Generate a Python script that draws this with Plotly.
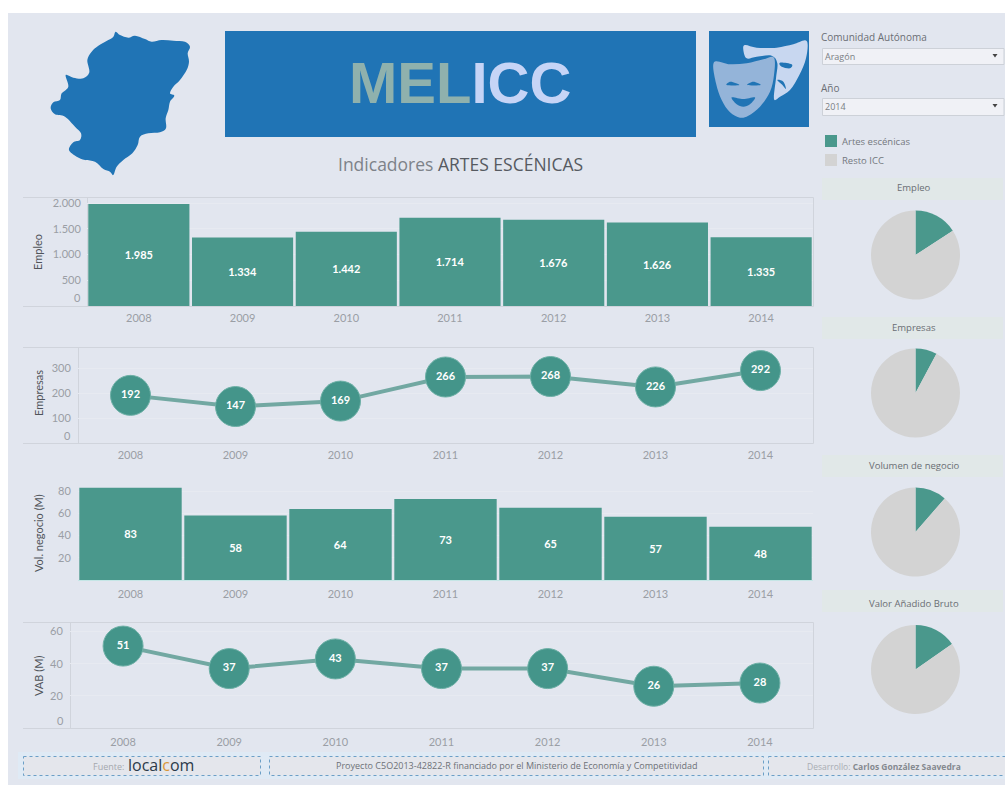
import plotly.graph_objects as go

W, H = 1005, 785

# ---- data ----
years = ["2008", "2009", "2010", "2011", "2012", "2013", "2014"]
empleo = [1985, 1334, 1442, 1714, 1676, 1626, 1335]
empresas = [192, 147, 169, 266, 268, 226, 292]
vol_negocio = [83, 58, 64, 73, 65, 57, 48]
vab = [51, 37, 43, 37, 37, 26, 28]

pie_titles = ["Empleo", "Empresas", "Volumen de negocio", "Valor Añadido Bruto"]
pie_labels = ["Artes escénicas", "Resto ICC"]
pie_artes = [15.8, 7.8, 11.4, 15.3]
pie_resto = [84.2, 92.2, 88.6, 84.7]

empleo_ticks = [500, 1000, 1500, 2000]
empleo_ticktext = ["500", "1.000", "1.500", "2.000"]
empresas_ticks = [100, 200, 300]
vol_ticks = [20, 40, 60, 80]
vab_ticks = [20, 40, 60]

# ---- colours ----
BG = "#e2e6ef"
TEAL = "#4a988c"
TEAL_DOT = "#44958a"
TEAL_LINE = "#72a8a2"
GREY = "#d3d3d3"
BLUE = "#2074b5"
FRAME = "#d0d4dc"
TICK = "#9a9ea5"
AXT = "#50545a"
FONT = "Lato"
SIDE = "Open Sans"


def px(x):
    return x / W


def py(y):
    return 1 - y / H


def path(points):
    return "M " + " L ".join(f"{px(x):.5f} {py(y):.5f}" for x, y in points) + " Z"


def smooth_path(points):
    # closed Catmull-Rom outline written as cubic segments
    n = len(points)
    s = f"M {px(points[0][0]):.5f} {py(points[0][1]):.5f}"
    for i in range(n):
        p0, p1, p2, p3 = points[i - 1], points[i], points[(i + 1) % n], points[(i + 2) % n]
        c1 = (p1[0] + (p2[0] - p0[0]) / 6, p1[1] + (p2[1] - p0[1]) / 6)
        c2 = (p2[0] - (p3[0] - p1[0]) / 6, p2[1] - (p3[1] - p1[1]) / 6)
        s += (f" C {px(c1[0]):.5f} {py(c1[1]):.5f} {px(c2[0]):.5f} {py(c2[1]):.5f}"
              f" {px(p2[0]):.5f} {py(p2[1]):.5f}")
    return s + " Z"


def zoomed(points, ox, oy, k=3.0):
    return [(ox + a / k, oy + b / k) for a, b in points]


shapes = []


def rect(x0, y0, x1, y1, fill=None, line=None, lw=1, dash=None, layer="below"):
    shapes.append(dict(type="rect", xref="paper", yref="paper", x0=px(x0), x1=px(x1),
                       y0=py(y0), y1=py(y1), fillcolor=fill or "rgba(0,0,0,0)",
                       line=dict(color=line or "rgba(0,0,0,0)", width=lw if line else 0, dash=dash),
                       layer=layer))


def poly(points, fill, smooth=False):
    shapes.append(dict(type="path", xref="paper", yref="paper",
                       path=smooth_path(points) if smooth else path(points),
                       fillcolor=fill, line=dict(color="rgba(0,0,0,0)", width=0), layer="below"))


def seg(x0, y0, x1, y1, color=FRAME, layer="below"):
    shapes.append(dict(type="line", xref="paper", yref="paper", x0=px(x0), x1=px(x1), y0=py(y0), y1=py(y1),
                       line=dict(color=color, width=1), layer=layer))


annotations = []


def label(x, y, text, size=11, color=AXT, font=FONT, xanchor="center", angle=0):
    annotations.append(dict(xref="paper", yref="paper", x=px(x), y=py(y), text=text,
                            showarrow=False, xanchor=xanchor, yanchor="middle", textangle=angle,
                            font=dict(size=size, color=color, family=font), borderpad=0, borderwidth=0))


# panel
rect(8, 13, 1005, 785, fill=BG)

# map of the region
map_pts = [(212, 20), (225, 30), (250, 38), (270, 32), (300, 42), (320, 50), (350, 45), (385, 47), (420, 50),
           (435, 65), (428, 85), (432, 110), (425, 135), (405, 165), (385, 185), (375, 205), (388, 212),
           (375, 230), (370, 255), (362, 280), (363, 310), (345, 322), (310, 325), (285, 335), (278, 360),
           (262, 385), (235, 405), (215, 425), (205, 450), (195, 440), (175, 432), (150, 410), (120, 405),
           (95, 395), (72, 375), (85, 352), (105, 345), (108, 325), (90, 305), (60, 275), (30, 268),
           (17, 250), (25, 232), (45, 225), (50, 205), (70, 185), (62, 150), (85, 158), (115, 160),
           (133, 142), (127, 105), (140, 80), (160, 62), (190, 45), (205, 35)]
poly(zoomed(map_pts, 45, 25), BLUE, smooth=True)

# banner and title
rect(225, 31, 696, 137, fill=BLUE)
label(460, 83, "<b><span style='color:#8fb1ad'>MEL</span><span style='color:#c6d4f6'>ICC</span></b>",
      size=58, font="Liberation Sans")
label(460, 164, "<span style='color:#7d8289'>Indicadores </span><span style='color:#565a61'>ARTES ESCÉNICAS</span>",
      size=17.5, font="Open Sans")

# icon
rect(709, 31, 809, 127, fill=BLUE)
back = [(135, 60), (170, 68), (230, 68), (280, 58), (320, 48), (318, 100), (298, 150), (270, 195), (240, 215),
        (222, 222), (228, 160), (232, 115), (215, 92), (170, 95), (140, 100), (130, 75)]
poly(zoomed(back, 700, 25), "#c8d7f0", smooth=True)
front = [(42, 112), (90, 118), (140, 115), (190, 103), (222, 98), (222, 150), (210, 200), (180, 245), (145, 272),
         (120, 278), (90, 262), (65, 225), (48, 175)]
poly(zoomed(front, 700, 25), "#94b4d9", smooth=True)
for shape_pts in ([(95, 217), (130, 222), (165, 217), (150, 238), (130, 245), (110, 238)],
                  [(80, 180), (92, 170), (118, 180)],
                  [(142, 180), (160, 170), (182, 180)],
                  [(240, 113), (275, 118), (270, 130), (245, 125)],
                  [(232, 165), (250, 170), (258, 192), (245, 178)]):
    poly(zoomed(shape_pts, 700, 25), BLUE, smooth=True)

# filters
label(821, 37, "Comunidad Autónoma", size=10, color="#6b6f75", font=SIDE, xanchor="left")
rect(822.5, 48.5, 1004, 64.5, fill="#f0f1f6", line="#cdd1d8")
label(825, 56.5, "Aragón", size=9, color="#7a7e84", font=SIDE, xanchor="left")
poly([(992.5, 54), (997.5, 54), (995, 57.5)], "#444")
label(821, 88, "Año", size=10, color="#6b6f75", font=SIDE, xanchor="left")
rect(822.5, 98.5, 1004, 115.5, fill="#f0f1f6", line="#cdd1d8")
label(825, 107, "2014", size=9, color="#7a7e84", font=SIDE, xanchor="left")
poly([(992.5, 104), (997.5, 104), (995, 107.5)], "#444")

# legend
rect(825, 135, 837, 147, fill=TEAL)
rect(825, 154, 837, 166, fill=GREY)
label(842, 142, pie_labels[0], size=9.5, color="#74787e", font=SIDE, xanchor="left")
label(842, 161, pie_labels[1], size=9.5, color="#74787e", font=SIDE, xanchor="left")

# pie headers
header_boxes = [(178, 200), (317, 339), (455, 477), (590, 612)]
header_text_y = [188, 327, 465, 603]
for (y0, y1), ty, t in zip(header_boxes, header_text_y, pie_titles):
    rect(822, y0, 1003, y1, fill="#e1e8e8")
    label(914, ty, t, size=9.5, color="#6a6e74", font=SIDE)

# chart frames: top, bottom and right rules plus the header divider
for x_div, y0, y1 in [(87.5, 197.5, 306.5), (78.5, 347.5, 443.5), (70.5, 622.5, 728.5)]:
    seg(23, y0, 813.5, y0)
    seg(23, y1, 813.5, y1)
    seg(813.5, y0, 813.5, y1)
    seg(x_div, y0, x_div, y1)
seg(78, 580.5, 813, 580.5, color="#c5e6e6", layer="above")

# axis titles and the inward-shifted zero labels
label(38, 252, "Empleo", angle=-90)
label(38, 393, "Empresas", angle=-90)
label(38, 533, "Vol. negocio (M)", angle=-90)
label(38, 676, "VAB (M)", angle=-90)
label(81, 297, "0", color=TICK, xanchor="right")
label(71, 435, "0", color=TICK, xanchor="right")
label(64, 720, "0", color=TICK, xanchor="right")

# footer
rect(18, 752, 1005, 779, fill="#dfeaf5")
for x0, x1 in [(23.5, 260.5), (269.5, 763.5), (768.5, 1008)]:
    rect(x0, 756.5, x1, 775.5, fill="#e4e6ec", line="#6b9fc7", dash="dot")
label(108, 766, "Fuente:", size=9, color="#a4a8ae", font=SIDE)
label(161, 765, "local<span style='color:#d9973a'>c</span>om", size=16, color="#2b3a4a", font=SIDE)
label(516, 765.5, "Proyecto C5O2013-42822-R financiado por el Ministerio de Economía y Competitividad",
      size=9, color="#6d7177", font=SIDE)
label(884, 766, "<span style='color:#a9adb3'>Desarrollo: </span><b>Carlos González Saavedra</b>",
      size=8.5, color="#85898f", font=SIDE)

fig = go.Figure()


def dots(v):
    return f"{v:,}".replace(",", ".")


def bar(values, idx):
    fig.add_trace(go.Bar(x=years, y=values, xaxis=f"x{idx}", yaxis=f"y{idx}", width=0.975,
                         marker=dict(color=TEAL, line=dict(width=0)),
                         text=[dots(v) for v in values], textposition="inside", insidetextanchor="middle",
                         textangle=0, constraintext="none",
                         textfont=dict(color="white", size=11, family=FONT, weight="bold"),
                         showlegend=False, hoverinfo="x+y"))


def line(values, idx):
    fig.add_trace(go.Scatter(x=years, y=values, xaxis=f"x{idx}", yaxis=f"y{idx}", mode="lines+markers+text",
                             line=dict(color=TEAL_LINE, width=4),
                             marker=dict(color=TEAL_DOT, size=40, line=dict(color="#6db0a6", width=1)),
                             text=[str(v) for v in values], textposition="middle center",
                             textfont=dict(color="white", size=11, family=FONT, weight="bold"),
                             cliponaxis=False, showlegend=False, hoverinfo="x+y"))


bar(empleo, 1)
line(empresas, 2)
bar(vol_negocio, 3)
line(vab, 4)

pie_boxes = [(871, 960, 210, 300), (871, 960, 348, 438), (871, 960, 487, 577), (871, 960, 625, 714)]
for (x0, x1, y0, y1), a, r, t in zip(pie_boxes, pie_artes, pie_resto, pie_titles):
    fig.add_trace(go.Pie(values=[a, r], labels=pie_labels, name=t, sort=False, direction="clockwise", rotation=0,
                         domain=dict(x=[px(x0), px(x1)], y=[py(y1), py(y0)]),
                         marker=dict(colors=[TEAL, GREY], line=dict(width=0)),
                         textinfo="none", showlegend=False))


def axes(idx, x0, x1, y0, y1, ymax, tickvals, ticktext=None, tlen=5, ylabelgap=3):
    xname = "xaxis" if idx == 1 else f"xaxis{idx}"
    yname = "yaxis" if idx == 1 else f"yaxis{idx}"
    anchor_x = "y" if idx == 1 else f"y{idx}"
    anchor_y = "x" if idx == 1 else f"x{idx}"
    return {
        xname: dict(domain=[px(x0), px(x1)], anchor=anchor_x, type="category", range=[-0.5, 6.5],
                    showgrid=False, zeroline=False, showline=False, ticks="outside", ticklen=tlen,
                    tickcolor="rgba(0,0,0,0)", tickfont=dict(size=11, color=TICK, family=FONT), fixedrange=True),
        yname: dict(domain=[py(y1), py(y0)], anchor=anchor_y, range=[0, ymax], tickvals=tickvals,
                    ticktext=ticktext if ticktext else [str(v) for v in tickvals],
                    showgrid=True, gridcolor="#e7eaf1", gridwidth=1, zeroline=False, showline=False,
                    ticks="outside", ticklen=ylabelgap, tickcolor="rgba(0,0,0,0)",
                    tickfont=dict(size=11, color=TICK, family=FONT), fixedrange=True),
    }


layout = dict(width=W, height=H, autosize=False, margin=dict(l=0, r=0, t=0, b=0, pad=0),
              paper_bgcolor="white", plot_bgcolor="rgba(0,0,0,0)", barmode="overlay",
              shapes=shapes, annotations=annotations, showlegend=False)
layout.update(axes(1, 87, 813, 197, 306, 2120, empleo_ticks, empleo_ticktext, tlen=2, ylabelgap=3))
layout.update(axes(2, 78, 813, 347, 443, 387, empresas_ticks, tlen=2, ylabelgap=4))
layout.update(axes(3, 78, 813, 480, 580, 90, vol_ticks, tlen=4, ylabelgap=4))
layout.update(axes(4, 70, 813, 622, 728, 66, vab_ticks, tlen=4, ylabelgap=4))
fig.update_layout(**layout)

fig.write_html("out.html", config=dict(displayModeBar=False),
               post_script="document.body.style.margin='0';document.body.style.overflow='hidden';")
